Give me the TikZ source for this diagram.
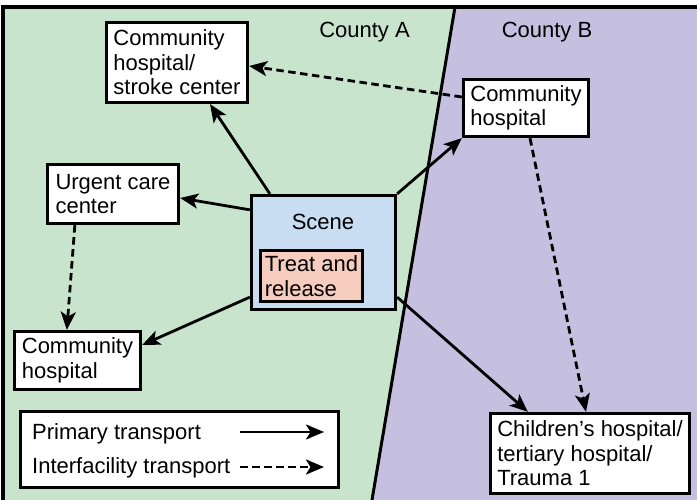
\documentclass[tikz,border=0pt]{standalone}
\usepackage{fontspec}
\setmainfont{Liberation Sans}
\usetikzlibrary{arrows.meta,calc}
\definecolor{cgreen}{RGB}{200,228,204}
\definecolor{cpurple}{RGB}{197,192,224}
\definecolor{cscene}{RGB}{200,220,242}
\definecolor{ctreat}{RGB}{246,204,190}
\begin{document}
\begin{tikzpicture}[x=1pt,y=-1pt,
  txt/.style={font=\fontsize{22}{24.5}\selectfont},
  box/.style={txt, draw=black, line width=3.3pt, fill=white, align=left, inner xsep=4pt, inner ysep=2pt},
  lbl/.style={txt, inner sep=0pt},
  prim/.style={line width=2.8pt, -{Stealth[length=18pt,width=15pt,inset=4.5pt]}},
  inter/.style={prim, dash pattern=on 7.5pt off 4.5pt}]
\useasboundingbox (0,0) rectangle (697,500);
% counties
\fill[cgreen] (3,7) -- (455,7) -- (372,500) -- (3,500) -- cycle;
\fill[cpurple] (455,7) -- (697,7) -- (697,500) -- (372,500) -- cycle;
\draw[line width=3.3pt, line join=miter] (3,500) -- (3,7) -- (697,7);
\draw[line width=3pt] (455,7) -- (372,500);
\node[lbl, anchor=base] (countyA) at (364.5,38) {County A};
\node[lbl, anchor=base] (countyB) at (547,38) {County B};
% boxes
\node[box, minimum width=141pt, minimum height=80pt] (stroke) at (177,62.5) {Community\\hospital/\\stroke center};
\node[box, minimum width=131pt, minimum height=59pt] (urgent) at (113,194) {Urgent care\\center};
\node[box, fill=cscene, minimum width=144pt, minimum height=114pt] (scene) at (323.5,252.5) {};
\node[lbl, anchor=base] (scenelbl) at (323,230) {Scene};
\node[box, fill=ctreat, minimum width=102pt, minimum height=51pt] (treat) at (311.5,276) {Treat and\\release};
\node[box, minimum width=125pt, minimum height=57pt] (commB) at (526,108) {Community\\hospital};
\node[box, minimum width=126pt, minimum height=58pt] (commL) at (77.5,360.5) {Community\\hospital};
\node[box, minimum width=199pt, minimum height=80pt] (child) at (590,453.5) {Children’s hospital/\\tertiary hospital/\\Trauma 1};
% legend
\node[box, minimum width=318pt, minimum height=76pt] (legend) at (179.5,449.5) {};
\node[lbl, anchor=base west] (lprim) at (32,439) {Primary transport};
\node[lbl, anchor=base west] (linter) at (32,473) {Interfacility transport};
\coordinate (lp1) at (240,432);
\coordinate (lp2) at (324,432);
\coordinate (li1) at (240,467);
\coordinate (li2) at (324,467);
\draw[prim] (lp1) -- (lp2);
\draw[inter] (li1) -- (li2);
% connectors
\draw[prim] ([xshift=20pt]scene.north west) -- ([xshift=33pt]stroke.south);
\draw[prim] ([yshift=-16pt]scene.north west) -- ([yshift=-4pt]urgent.east);
\draw[prim] (scene.north east) -- (commB.south west);
\draw[prim] ([yshift=14pt]scene.south west) -- ([yshift=15.5pt]commL.east);
\draw[prim] ([yshift=14pt]scene.south east) -- ([xshift=39pt]child.north west);
\draw[inter] ([yshift=11pt]commB.west) -- ([yshift=-3.5pt]stroke.east);
\draw[inter] ([xshift=4pt]commB.south) -- ([xshift=-4pt]child.north);
\draw[inter] ([xshift=29pt]urgent.south west) -- ([xshift=54pt]commL.north west);
\end{tikzpicture}
\end{document}
